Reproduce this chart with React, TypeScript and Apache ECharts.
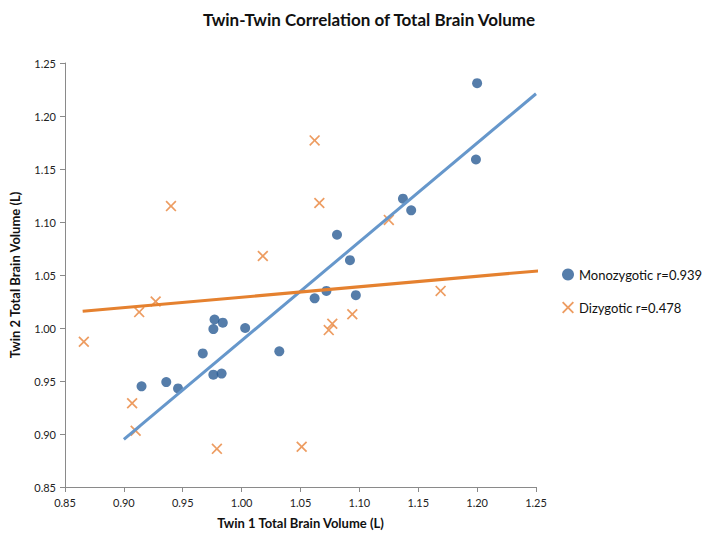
import React, { useEffect, useRef } from "react";
import * as echarts from "echarts";

const mzX = [1.200, 1.199, 1.137, 1.144, 1.081, 1.092, 1.072, 1.062, 1.097, 0.915, 0.936, 0.946, 0.967, 0.976, 0.977, 0.984, 0.976, 0.983, 1.003, 1.032];
const mzY = [1.231, 1.159, 1.122, 1.111, 1.088, 1.064, 1.035, 1.028, 1.031, 0.945, 0.949, 0.943, 0.976, 0.999, 1.008, 1.005, 0.956, 0.957, 1.000, 0.978];

const dzX = [0.940, 1.018, 0.927, 1.062, 1.066, 1.125, 1.169, 0.866, 0.913, 0.907, 0.910, 0.979, 1.051, 1.074, 1.077, 1.094];
const dzY = [1.115, 1.068, 1.025, 1.177, 1.118, 1.102, 1.035, 0.987, 1.015, 0.929, 0.903, 0.886, 0.888, 0.998, 1.004, 1.013];

const mzTrendX = [0.9, 1.25];
const mzTrendY = [0.895, 1.221];
const dzTrendX = [0.865, 1.26];
const dzTrendY = [1.0157, 1.0547];

const mzName = "Monozygotic r=0.939";
const dzName = "Dizygotic r=0.478";
const titleText = "Twin-Twin Correlation of Total Brain Volume";
const xName = "Twin 1 Total Brain Volume (L)";
const yName = "Twin 2 Total Brain Volume (L)";

const FONT = "Lato, 'Open Sans', sans-serif";
const CROSS = "path://M0,1.1L1.1,0L5,3.9L8.9,0L10,1.1L6.1,5L10,8.9L8.9,10L5,6.1L1.1,10L0,8.9L3.9,5Z";

const zip = (a: number[], b: number[]) => a.map((v, i) => [v, b[i]]);

export default function App() {
  const ref = useRef<HTMLDivElement>(null);
  useEffect(() => {
    document.body.style.margin = "0";
    const chart = echarts.init(ref.current!, null, { renderer: "svg" });
    const axisCommon = {
      min: 0.85,
      max: 1.25,
      interval: 0.05,
      splitLine: { show: false },
      axisLine: { show: true, lineStyle: { color: "#8a8a8a", width: 1 } },
      axisTick: { show: true, length: 5, lineStyle: { color: "#8a8a8a" } },
      axisLabel: {
        color: "#222",
        fontSize: 11,
        fontFamily: FONT,
        formatter: (v: number) => v.toFixed(2),
      },
      nameLocation: "middle" as const,
      nameTextStyle: { fontSize: 13, fontWeight: "bold" as const, color: "#111", fontFamily: FONT },
    };
    chart.setOption({
      animation: false,
      backgroundColor: "#fff",
      title: {
        text: titleText,
        left: 364,
        top: 6,
        textAlign: "center",
        textStyle: { fontSize: 17, fontWeight: "bold", color: "#111", fontFamily: FONT },
      },
      grid: { left: 64, right: 174, top: 63, bottom: 51 },
      xAxis: { ...axisCommon, type: "value", name: xName, nameGap: 29, axisLabel: { ...axisCommon.axisLabel, margin: 10 } },
      yAxis: { ...axisCommon, type: "value", name: yName, nameGap: 44, axisLabel: { ...axisCommon.axisLabel, margin: 9 } },
      legend: {
        orient: "vertical",
        left: 560,
        top: 266,
        width: 150,
        padding: 2,
        itemGap: 20,
        itemWidth: 12,
        itemHeight: 12,
        data: [mzName, dzName],
        textStyle: { fontSize: 13, color: "#111", fontFamily: FONT, width: 140, overflow: "none" },
      },
      series: [
        {
          name: mzName,
          type: "scatter",
          symbol: "circle",
          symbolSize: 10,
          itemStyle: { color: "#2A5D95" },
          data: zip(mzX, mzY),
        },
        {
          name: dzName,
          type: "scatter",
          symbol: CROSS,
          symbolSize: 11,
          itemStyle: { color: "#E8833A" },
          data: zip(dzX, dzY),
        },
        {
          name: "mzTrend",
          type: "line",
          symbol: "none",
          clip: false,
          lineStyle: { color: "#6697CB", width: 3 },
          data: zip(mzTrendX, mzTrendY),
        },
        {
          name: "dzTrend",
          type: "line",
          symbol: "none",
          clip: false,
          lineStyle: { color: "#E5812F", width: 3 },
          data: zip(dzTrendX, dzTrendY),
        },
      ],
    });
    return () => chart.dispose();
  }, []);
  return <div ref={ref} style={{ width: 710, height: 538 }} />;
}
